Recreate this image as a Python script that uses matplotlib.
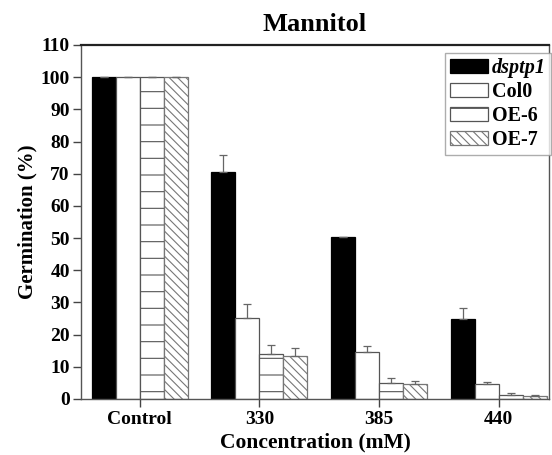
import matplotlib
matplotlib.use("Agg")
import matplotlib.pyplot as plt
import numpy as np

plt.rcParams['font.family'] = ['Liberation Serif', 'DejaVu Serif']
plt.rcParams['font.weight'] = 'bold'
plt.rcParams['hatch.linewidth'] = 0.8

categories = ["Control", "330", "385", "440"]
series = ["dsptp1", "Col0", "OE-6", "OE-7"]
dsptp1 = [100, 70.6, 50.4, 24.9]
dsptp1_err = [0, 5.3, 0, 3.3]
col0 = [100, 25.1, 14.5, 4.6]
col0_err = [0, 4.5, 1.9, 0.8]
oe6 = [100, 13.9, 4.9, 1.1]
oe6_err = [0, 2.8, 1.5, 0.7]
oe7 = [100, 13.4, 4.7, 0.9]
oe7_err = [0, 2.3, 1.0, 0.3]
yticks = list(range(0, 111, 10))

fig = plt.figure(figsize=(5.52, 4.55), dpi=100)
ax = fig.add_axes([0.1467, 0.1231, 0.848, 0.778])

x = np.arange(len(categories))
w = 0.2
edge = '#555555'
styles = [
    dict(color='black', edgecolor='black', hatch=None),
    dict(color='white', edgecolor=edge, hatch=None),
    dict(color='white', edgecolor=edge, hatch='-'),
    dict(color='white', edgecolor='#777777', hatch='\\\\\\\\'),
]
vals = [dsptp1, col0, oe6, oe7]
errs = [dsptp1_err, col0_err, oe6_err, oe7_err]
offsets = [-1.5, -0.5, 0.5, 1.5]
for v, e, s, off, name in zip(vals, errs, styles, offsets, series):
    ax.bar(x + off * w, v, w, color=s['color'], edgecolor=s['edgecolor'],
           hatch=s['hatch'], linewidth=0.9, label=name,
           yerr=[np.zeros(len(e)), e], capsize=3,
           error_kw=dict(ecolor='#666666', elinewidth=0.9, capthick=0.9))

ax.set_xlim(-0.49, 3.42)
ax.set_ylim(0, 110)
ax.set_yticks(yticks)
ax.set_xticks(x)
ax.set_xticklabels(categories)
for sp in ['left', 'bottom', 'right']:
    ax.spines[sp].set_color('#555555')
    ax.spines[sp].set_linewidth(1.0)
ax.spines['top'].set_color('#222222')
ax.spines['top'].set_linewidth(1.6)
ax.tick_params(axis='both', labelsize=14, color='#444444', width=1.0)
ax.tick_params(axis='y', length=6, pad=2)
ax.tick_params(axis='x', length=6, pad=3)
for lab in ax.get_xticklabels() + ax.get_yticklabels():
    lab.set_fontweight('bold')

ax.set_xlabel("Concentration (mM)", fontsize=15.5, fontweight='bold', labelpad=3)
ax.set_ylabel("Germination (%)", fontsize=15, fontweight='bold', labelpad=2)
ax.set_title("Mannitol", fontsize=19, fontweight='bold', pad=10)

leg = ax.legend(loc='upper right', bbox_to_anchor=(1.004, 0.977), fontsize=14.5,
                handlelength=1.9, handleheight=0.7, handletextpad=0.2,
                labelspacing=0.2, borderpad=0.25, frameon=True, fancybox=False,
                borderaxespad=0.0)
leg.get_frame().set_edgecolor('#999999')
leg.get_frame().set_linewidth(1.0)
for t in leg.get_texts():
    t.set_fontweight('bold')
leg.get_texts()[0].set_fontstyle('italic')

fig.savefig("out.png", dpi=100)
